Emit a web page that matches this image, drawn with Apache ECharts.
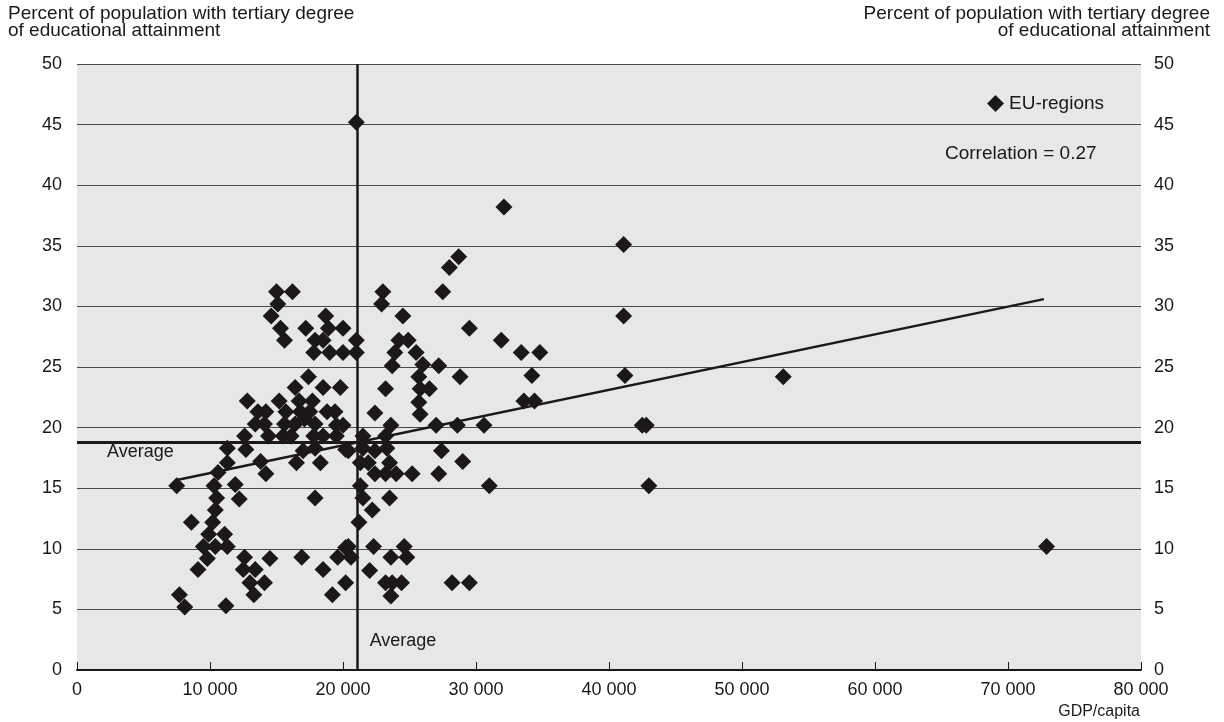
<!DOCTYPE html>
<html>
<head>
<meta charset="utf-8">
<title>GDP per capita and tertiary attainment, EU regions</title>
<script src="https://cdn.jsdelivr.net/npm/echarts@6/dist/echarts.min.js"></script>
<style>
  html, body { margin: 0; padding: 0; background: #ffffff; }
  #chart { width: 1224px; height: 722px; }
</style>
</head>
<body>
<div id="chart"></div>
<script>
// GDP per capita of each EU region (x) and share of population with a tertiary degree (y)
const gdpPerCapita = [
  11300, 12700, 11300, 13800, 14200, 16500, 18300, 17000, 17900, 20200,
  7500, 10600, 10300, 11900, 12200, 10500, 17900, 10400, 10200, 8600,
  9900, 11100, 9500, 10400, 11300, 9800, 9100, 12600, 14500, 16900,
  12500, 13400, 13000, 14100, 13300, 7700, 8100, 11200, 18500, 19600,
  20200, 20200, 19200,
  15000, 16200, 15100, 14600, 15300, 15600, 17200, 18700, 18900, 20000,
  17900, 18500, 17800, 19000, 20000, 17400, 16400, 18500, 19800, 12800,
  15200, 16700, 17700, 13600, 14200, 15700, 16800, 17500, 18800, 19400,
  13400, 14100, 15600, 16400, 17100, 17900, 20000, 14400, 15500, 16100,
  17800, 18500, 19500, 12600,
  23000, 22900, 27500, 28000, 24500, 21000, 24200, 24900, 21000, 23900,
  25500, 29500, 31900, 33400, 23700, 26000, 27200, 28800, 25700, 23200,
  25800, 26500, 25700, 25800, 22400, 19500, 23600, 27000, 28600, 30600,
  21500, 23200, 20400, 21500, 22400, 23300, 27400, 21300, 21900, 23500,
  29000,
  22400, 23200, 24000, 25200, 27200, 31000, 21300, 21500, 23500, 22200,
  21200, 20400, 22300, 24600, 20600, 23600, 24800, 22000, 23200, 23700,
  24400, 28200, 29500, 23600,
  32100, 41100, 28700, 41100, 34800, 34200, 41200, 33600, 34400, 42500,
  42800, 43000, 53100, 72900, 21000
];
const tertiaryShare = [
  18.3, 18.2, 17.1, 17.2, 16.2, 17.1, 17.1, 18.1, 18.3, 18.2,
  15.2, 16.3, 15.2, 15.3, 14.1, 14.2, 14.2, 13.2, 12.2, 12.2,
  11.2, 11.2, 10.2, 10.2, 10.2, 9.2, 8.3, 9.3, 9.2, 9.3,
  8.3, 8.3, 7.2, 7.2, 6.2, 6.2, 5.2, 5.3, 8.3, 9.3,
  10.1, 7.2, 6.2,
  31.2, 31.2, 30.2, 29.2, 28.2, 27.2, 28.2, 29.2, 28.2, 28.2,
  27.2, 27.2, 26.2, 26.2, 26.2, 24.2, 23.3, 23.3, 23.3, 22.2,
  22.2, 22.2, 22.2, 21.3, 21.3, 21.3, 21.3, 21.3, 21.3, 21.3,
  20.3, 20.3, 20.3, 20.3, 20.7, 20.3, 20.2, 19.3, 19.3, 19.3,
  19.3, 19.3, 19.3, 19.3,
  31.2, 30.2, 31.2, 33.2, 29.2, 27.2, 27.2, 27.2, 26.2, 26.2,
  26.2, 28.2, 27.2, 26.2, 25.1, 25.2, 25.1, 24.2, 24.2, 23.2,
  23.2, 23.2, 22.1, 21.1, 21.2, 20.2, 20.2, 20.2, 20.2, 20.2,
  19.3, 19.3, 18.1, 18.3, 18.1, 18.3, 18.1, 17.1, 17.1, 17.1,
  17.2,
  16.2, 16.2, 16.2, 16.2, 16.2, 15.2, 15.2, 14.2, 14.2, 13.2,
  12.2, 10.2, 10.2, 10.2, 9.3, 9.3, 9.3, 8.2, 7.2, 7.2,
  7.2, 7.2, 7.2, 6.1,
  38.2, 35.1, 34.1, 29.2, 26.2, 24.3, 24.3, 22.2, 22.2, 20.2,
  20.2, 15.2, 24.2, 10.2, 45.2
];

// Fitted regression line (end points)
const trendGdp = [7600, 72700];
const trendShare = [15.7, 30.6];

// Averages shown as cross lines
const averageGdp = 21100;
const averageShare = 18.8;

// Axis ranges
const xMin = 0, xMax = 80000, xStep = 10000;
const yMin = 0, yMax = 50, yStep = 5;

const seriesName = 'EU-regions';
const correlationText = 'Correlation = 0.27';
const yTitle = 'Percent of population with tertiary degree\nof educational attainment';
const xTitle = 'GDP/capita';
const averageLabel = 'Average';

const FONT = '"Liberation Sans", Arial, Helvetica, sans-serif';
const INK = '#1c1819';

const points = gdpPerCapita.map((g, i) => [g, tertiaryShare[i]]);
const trendPoints = trendGdp.map((g, i) => [g, trendShare[i]]);

const fmtThousands = v => String(v).replace(/\B(?=(\d{3})+(?!\d))/g, ' ');

const chart = echarts.init(document.getElementById('chart'), null, { renderer: 'canvas' });

chart.setOption({
  animation: false,
  backgroundColor: '#ffffff',
  textStyle: { fontFamily: FONT },
  grid: {
    left: 77, right: 83, top: 64, bottom: 52,
    show: true, backgroundColor: '#e6e7e8', borderWidth: 0
  },
  legend: {
    data: [seriesName],
    left: 982, top: 89,
    icon: 'diamond',
    itemWidth: 17, itemHeight: 17,
    itemStyle: { color: INK },
    textStyle: { fontFamily: FONT, fontSize: 19, color: INK },
    selectedMode: false
  },
  graphic: [
    {
      type: 'text', x: 8, y: 5,
      style: { text: yTitle, font: '19px ' + FONT, fill: INK, lineHeight: 17, align: 'left', verticalAlign: 'top' }
    },
    {
      type: 'text', x: 1210, y: 5,
      style: { text: yTitle, font: '19px ' + FONT, fill: INK, lineHeight: 17, align: 'right', verticalAlign: 'top' }
    },
    {
      type: 'text', x: 945, y: 154,
      style: { text: correlationText, font: '19px ' + FONT, fill: INK, align: 'left', verticalAlign: 'middle' }
    },
    {
      type: 'text', x: 1140, y: 712,
      style: { text: xTitle, font: '16px ' + FONT, fill: INK, align: 'right', verticalAlign: 'middle' }
    }
  ],
  xAxis: {
    type: 'value',
    min: xMin, max: xMax, interval: xStep,
    axisLine: { show: true, onZero: false, lineStyle: { color: INK, width: 2 } },
    axisTick: { show: true, inside: true, length: 8, lineStyle: { color: INK, width: 1 } },
    axisLabel: { margin: 11, fontSize: 18, color: INK, fontFamily: FONT, formatter: fmtThousands },
    splitLine: { show: false }
  },
  yAxis: [
    {
      type: 'value', position: 'left',
      min: yMin, max: yMax, interval: yStep,
      axisLine: { show: false },
      axisTick: { show: false },
      axisLabel: { margin: 15, fontSize: 18, color: INK, fontFamily: FONT },
      splitLine: { show: true, lineStyle: { color: '#4a4a4a', width: 1 } }
    },
    {
      type: 'value', position: 'right',
      min: yMin, max: yMax, interval: yStep,
      axisLine: { show: false },
      axisTick: { show: false },
      axisLabel: { margin: 13, fontSize: 18, color: INK, fontFamily: FONT },
      splitLine: { show: false }
    }
  ],
  series: [
    {
      name: 'trend',
      type: 'line',
      data: trendPoints,
      symbol: 'none',
      silent: true,
      z: 3,
      lineStyle: { color: INK, width: 2.5 },
      markLine: {
        silent: true,
        symbol: 'none',
        label: { show: false },
        lineStyle: { color: INK, width: 2.5, type: 'solid' },
        data: [
          { xAxis: averageGdp },
          { yAxis: averageShare, lineStyle: { width: 3 } }
        ]
      },
      markPoint: {
        silent: true,
        symbol: 'circle',
        symbolSize: 0,
        itemStyle: { color: 'transparent' },
        data: [
          {
            coord: [averageGdp, 2.43],
            label: { show: true, position: 'right', distance: 12, formatter: averageLabel,
                     fontSize: 18, color: INK, fontFamily: FONT }
          },
          {
            coord: [xMin, averageShare],
            label: { show: true, position: 'right', distance: 30, offset: [0, 10], formatter: averageLabel,
                     fontSize: 18, color: INK, fontFamily: FONT }
          }
        ]
      }
    },
    {
      name: seriesName,
      type: 'scatter',
      data: points,
      symbol: 'diamond',
      symbolSize: 17,
      z: 4,
      itemStyle: { color: INK, opacity: 1, borderWidth: 0 }
    }
  ]
});
</script>
</body>
</html>
